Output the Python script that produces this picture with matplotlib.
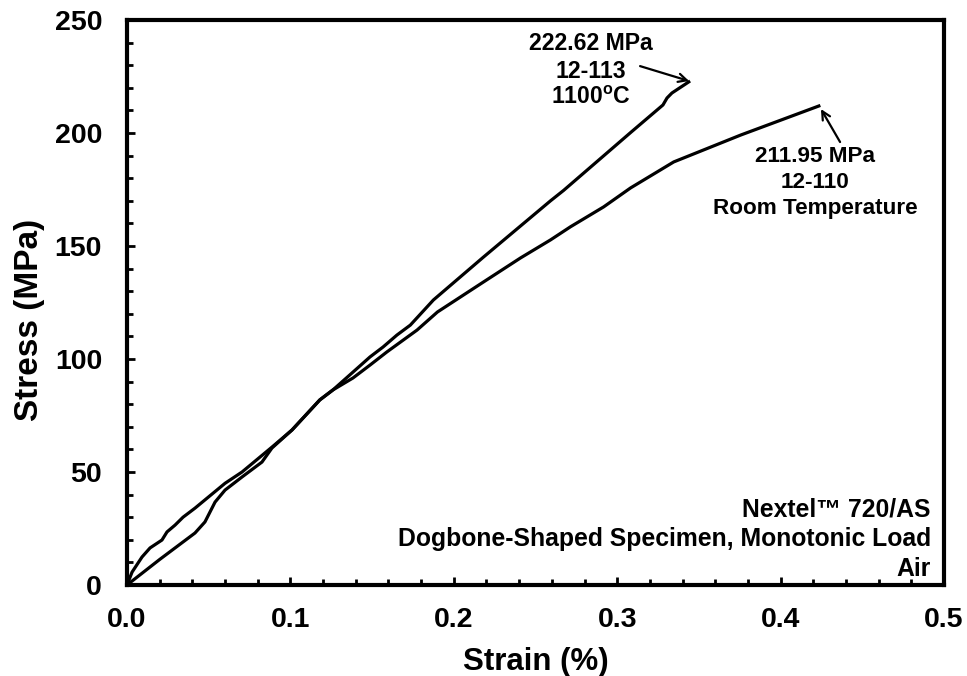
import matplotlib
matplotlib.use("Agg")
import matplotlib.pyplot as plt
from matplotlib.ticker import MultipleLocator, FormatStrFormatter

plt.rcParams['font.family'] = ['Liberation Sans', 'DejaVu Sans']
plt.rcParams['font.weight'] = 'bold'
plt.rcParams['mathtext.fontset'] = 'custom'
plt.rcParams['mathtext.bf'] = 'Liberation Sans:bold'
plt.rcParams['mathtext.rm'] = 'Liberation Sans:bold'

# 12-113, 1100 C
strain_hot = [0.0, 0.02, 0.0416, 0.0477, 0.0539, 0.060, 0.0704, 0.0826, 0.0887, 0.101,
              0.118, 0.126, 0.1383, 0.1487, 0.1567, 0.1652, 0.1734, 0.1875, 0.218,
              0.2592, 0.2672, 0.3082, 0.328, 0.3305, 0.3335, 0.3438]
stress_hot = [0.0, 11.3, 23.0, 27.9, 36.7, 42.0, 47.8, 54.4, 60.6, 68.6,
              81.9, 86.3, 94.2, 100.9, 105.3, 110.6, 115.0, 126.1, 145.0,
              170.0, 174.6, 200.2, 212.4, 215.5, 217.7, 222.62]

# 12-110, room temperature
strain_rt = [0.0, 0.0031, 0.0092, 0.0141, 0.0214, 0.0245, 0.0294, 0.0343, 0.0416, 0.060,
             0.0704, 0.0887, 0.101, 0.118, 0.126, 0.1383, 0.1487, 0.159, 0.1775, 0.190,
             0.218, 0.2408, 0.2592, 0.2714, 0.2917, 0.3082, 0.3346, 0.3756, 0.4234]
stress_rt = [0.0, 5.7, 12.4, 16.4, 19.9, 23.5, 26.5, 30.0, 34.0, 45.0,
             50.0, 61.0, 68.6, 81.9, 86.3, 91.6, 97.3, 103.1, 112.8, 120.8,
             134.0, 144.7, 152.7, 158.5, 167.3, 175.7, 187.2, 199.1, 211.95]

label_hot = ["222.62 MPa", "12-113", r"1100$^{\mathbf{o}}$C"]
label_rt = ["211.95 MPa", "12-110", "Room Temperature"]
info_lines = ["Nextel\u2122 720/AS", "Dogbone-Shaped Specimen, Monotonic Load", "Air"]

fig = plt.figure(figsize=(9.67, 6.76), dpi=100)
ax = fig.add_axes([127/967, 1 - 585/676, (944-127)/967, (585-20)/676])

ax.plot(strain_hot, stress_hot, color='black', lw=2.3, solid_joinstyle='round')
ax.plot(strain_rt, stress_rt, color='black', lw=2.3, solid_joinstyle='round')

ax.set_xlim(0, 0.5)
ax.set_ylim(0, 250)
ax.xaxis.set_major_locator(MultipleLocator(0.1))
ax.xaxis.set_minor_locator(MultipleLocator(0.02))
ax.yaxis.set_major_locator(MultipleLocator(50))
ax.yaxis.set_minor_locator(MultipleLocator(10))
ax.xaxis.set_major_formatter(FormatStrFormatter('%.1f'))
ax.yaxis.set_major_formatter(FormatStrFormatter('%d'))
ax.tick_params(which='both', direction='in', top=False, right=False, width=2.0,
               labelsize=20.5, color='black')
ax.tick_params(which='major', length=6)
ax.tick_params(which='minor', length=4.5)
ax.tick_params(axis='x', which='major', pad=16)
ax.tick_params(axis='y', which='major', pad=18)
for s in ax.spines.values():
    s.set_linewidth(3.0)
    s.set_color('black')

ax.set_xlabel("Strain (%)", fontsize=22.5, fontweight='bold')
ax.set_ylabel("Stress (MPa)", fontsize=24, fontweight='bold')
ax.xaxis.set_label_coords(0.5, -0.11)
ax.yaxis.set_label_coords(-0.100, 0.469)

for txt, y in zip(label_hot, [239.8, 227.0, 215.5]):
    ax.text(0.284, y, txt, ha='center', va='center', fontsize=16.6, fontweight='bold')
for txt, y in zip(label_rt, [189.4, 178.3, 166.8]):
    ax.text(0.421, y, txt, ha='center', va='center', fontsize=16.2, fontweight='bold')

ax.annotate('', xy=(0.344, 223.0), xytext=(0.314, 229.6),
            arrowprops=dict(arrowstyle='->,head_length=0.6,head_width=0.3', lw=1.6, color='black',
                            shrinkA=0, shrinkB=0))
ax.annotate('', xy=(0.4247, 210.6), xytext=(0.4364, 196.0),
            arrowprops=dict(arrowstyle='->,head_length=0.6,head_width=0.3', lw=1.6, color='black',
                            shrinkA=0, shrinkB=0))

for txt, y in zip(info_lines, [33.6, 20.4, 7.1]):
    ax.text(0.492, y, txt, ha='right', va='center', fontsize=17.8, fontweight='bold')

fig.savefig("out.png", dpi=100)
